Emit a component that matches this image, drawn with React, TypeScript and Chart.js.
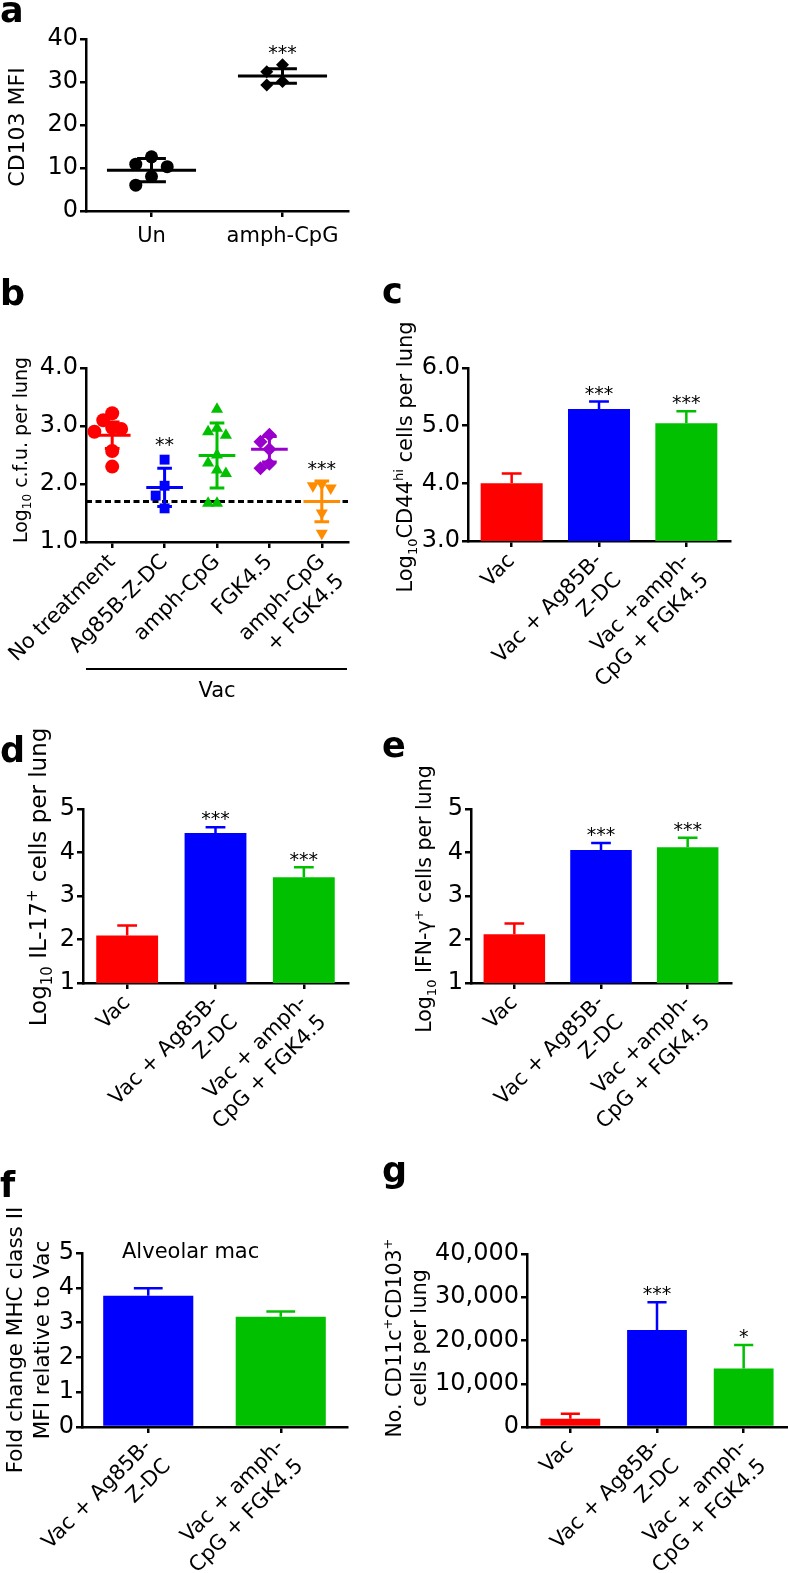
import React, { useEffect, useRef } from "react";
import { Chart, registerables } from "chart.js";

Chart.register(...registerables);

const FONT = '"DejaVu Sans", Verdana, sans-serif';
const BLACK = "#000000";
const RED = "#ff0000";
const BLUE = "#0000ff";
const GREEN = "#00c000";
const PURPLE = "#9a00cc";
const ORANGE = "#ff8c00";

// ---------------- Panel a ----------------
const A_GROUPS = ["Un", "amph-CpG"];
const A_UN = [10.9, 12.6, 10.3, 8.0, 6.0];
const A_AMPH = [32.4, 34.0, 29.3, 30.1];
const A_MEAN = [9.5, 31.4];
const A_SD = [2.7, 1.7];
const A_SIG = ["", "***"];
const A_Y_TICKS = [0, 10, 20, 30, 40];

// ---------------- Panel b ----------------
const B_GROUPS = [["No treatment"], ["Ag85B-Z-DC"], ["amph-CpG"], ["FGK4.5"], ["amph-CpG", "+ FGK4.5"]];
const B_NO_TREATMENT = [3.22, 3.1, 2.97, 2.95, 2.9, 2.57, 2.3];
const B_AG85B = [2.42, 1.97, 1.8, 1.58];
const B_AMPH = [3.29, 2.96, 2.9, 2.84, 2.5, 2.36, 2.24, 2.18, 1.67, 1.67];
const B_FGK = [2.85, 2.73, 2.6, 2.35, 2.27];
const B_COMBO = [2.0, 1.97, 1.93, 1.5, 1.15];
const B_MEAN = [2.84, 1.94, 2.49, 2.6, 1.7];
const B_SD = [0.23, 0.33, 0.56, 0.22, 0.35];
const B_SIG = ["", "**", "", "", "***"];
const B_LIMIT = 1.7;
const B_GROUP_LABEL = "Vac";
const B_Y_TICKS = [1.0, 1.5, 2.0, 2.5, 3.0, 3.5, 4.0];

// ---------------- Panel c ----------------
const C_CATS = [["Vac"], ["Vac + Ag85B-", "Z-DC"], ["Vac +amph-", "CpG + FGK4.5"]];
const C_VALUES = [4.0, 5.29, 5.04];
const C_ERR = [0.17, 0.13, 0.21];
const C_SIG = ["", "***", "***"];
const C_Y_TICKS = [3.0, 3.5, 4.0, 4.5, 5.0, 5.5, 6.0];

// ---------------- Panel d ----------------
const D_CATS = [["Vac"], ["Vac + Ag85B-", "Z-DC"], ["Vac + amph-", "CpG + FGK4.5"]];
const D_VALUES = [2.09, 4.45, 3.43];
const D_ERR = [0.23, 0.13, 0.23];
const D_SIG = ["", "***", "***"];
const D_Y_TICKS = [1, 2, 3, 4, 5];

// ---------------- Panel e ----------------
const E_CATS = [["Vac"], ["Vac + Ag85B-", "Z-DC"], ["Vac +amph-", "CpG + FGK4.5"]];
const E_VALUES = [2.12, 4.06, 4.12];
const E_ERR = [0.25, 0.16, 0.22];
const E_SIG = ["", "***", "***"];
const E_Y_TICKS = [1, 2, 3, 4, 5];

// ---------------- Panel f ----------------
const F_CATS = [["Vac + Ag85B-", "Z-DC"], ["Vac + amph-", "CpG + FGK4.5"]];
const F_VALUES = [3.77, 3.17];
const F_ERR = [0.22, 0.15];
const F_NOTE = "Alveolar mac";
const F_Y_TICKS = [0, 1, 2, 3, 4, 5];

// ---------------- Panel g ----------------
const G_CATS = [["Vac"], ["Vac + Ag85B-", "Z-DC"], ["Vac + amph-", "CpG + FGK4.5"]];
const G_VALUES = [1900, 22400, 13500];
const G_ERR = [1150, 6450, 5450];
const G_SIG = ["", "***", "*"];
const G_Y_TICKS = [0, 10000, 20000, 30000, 40000];

// ---------------- helpers ----------------
type Seg = { t: string; s?: "sub" | "sup" };
type Box = { x: number; y: number; w: number; h: number };
type Area = { l: number; t: number; r: number; b: number };

const STAR_SIZE = 19;
const TICK_SIZE = 24;
const LABEL_SIZE = 21;

function drawRich(ctx: any, lines: Seg[][], cx: number, cy: number, size: number, gap: number) {
  ctx.save();
  ctx.translate(cx, cy);
  ctx.rotate(-Math.PI / 2);
  ctx.fillStyle = BLACK;
  ctx.textBaseline = "alphabetic";
  ctx.textAlign = "left";
  const n = lines.length;
  lines.forEach((segs, li) => {
    const widths = segs.map((sg) => {
      ctx.font = `${sg.s ? Math.round(size * 0.64) : size}px ${FONT}`;
      return ctx.measureText(sg.t).width;
    });
    const total = widths.reduce((a, b) => a + b, 0);
    let x = -total / 2;
    const baseY = (li - (n - 1) / 2) * gap + size * 0.36;
    segs.forEach((sg, i) => {
      ctx.font = `${sg.s ? Math.round(size * 0.64) : size}px ${FONT}`;
      const dy = sg.s === "sub" ? size * 0.24 : sg.s === "sup" ? -size * 0.42 : 0;
      ctx.fillText(sg.t, x, baseY + dy);
      x += widths[i];
    });
  });
  ctx.restore();
}

function drawStars(ctx: any, s: string, x: number, cy: number, size: number) {
  ctx.save();
  ctx.font = `${size}px ${FONT}`;
  ctx.textAlign = "center";
  ctx.textBaseline = "alphabetic";
  ctx.fillStyle = BLACK;
  ctx.fillText(s, x, cy + size * 0.59);
  ctx.restore();
}

function beeswarm(values: number[], thresh: number, step: number): number[] {
  const order = values.map((_, i) => i).sort((a, b) => values[b] - values[a]);
  const placed: { v: number; o: number }[] = [];
  const offs = new Array(values.length).fill(0);
  for (const i of order) {
    for (const c of [0, -1, 1, -2, 2]) {
      if (!placed.some((p) => p.o === c && Math.abs(p.v - values[i]) < thresh)) {
        offs[i] = c * step;
        placed.push({ v: values[i], o: c });
        break;
      }
    }
  }
  return offs;
}

function baseOptions(box: Box, area: Area) {
  return {
    responsive: false,
    maintainAspectRatio: false,
    animation: false,
    events: [],
    layout: { padding: { left: 0, top: area.t - box.y, right: box.x + box.w - area.r, bottom: 0 } },
    plugins: { legend: { display: false }, tooltip: { enabled: false } },
  };
}

function yAxis(box: Box, area: Area, ticksArr: number[], fmt: (v: number) => string, size: number) {
  return {
    type: "linear",
    min: ticksArr[0],
    max: ticksArr[ticksArr.length - 1],
    afterBuildTicks: (s: any) => {
      s.ticks = ticksArr.map((v) => ({ value: v }));
    },
    ticks: { color: BLACK, font: { family: FONT, size }, padding: 2, callback: (v: any) => fmt(Number(v)) },
    grid: { drawOnChartArea: false, drawTicks: true, tickLength: 6, color: BLACK, lineWidth: 2.5 },
    border: { display: true, color: BLACK, width: 2.5 },
    afterFit: (s: any) => {
      s.width = area.l - box.x;
    },
  };
}

function xCat(box: Box, area: Area, size: number) {
  return {
    type: "category",
    offset: true,
    ticks: {
      color: BLACK,
      font: { family: FONT, size, lineHeight: 1.3 },
      minRotation: 45,
      maxRotation: 45,
      autoSkip: false,
      padding: 1,
    },
    grid: { drawOnChartArea: false, drawTicks: true, tickLength: 6, color: BLACK, lineWidth: 2.5, offset: false },
    border: { display: true, color: BLACK, width: 2.5 },
    afterFit: (s: any) => {
      s.height = box.y + box.h - area.b;
    },
  };
}

function decorPlugin(box: Box, letter: string, lx: number, ly: number, title: Seg[][], tcx: number, tcy: number, tsize: number, tgap: number, extra?: (ctx: any, chart: any) => void) {
  return {
    id: "decor",
    afterDraw(chart: any) {
      const ctx = chart.ctx;
      ctx.save();
      ctx.fillStyle = BLACK;
      ctx.font = `bold 35px ${FONT}`;
      ctx.textAlign = "left";
      ctx.textBaseline = "alphabetic";
      ctx.fillText(letter, lx - box.x, ly - box.y);
      ctx.restore();
      drawRich(ctx, title, tcx - box.x, tcy - box.y, tsize, tgap);
      if (extra) extra(ctx, chart);
    },
  };
}

function statsPlugin(means: number[], sds: number[], colors: string[], meanHalf: number, capHalf: number, lw: number) {
  return {
    id: "stats",
    afterDatasetsDraw(chart: any) {
      const { ctx } = chart;
      const x = chart.scales.x;
      const y = chart.scales.y;
      ctx.save();
      ctx.lineWidth = lw;
      means.forEach((m, i) => {
        ctx.strokeStyle = colors[i];
        const ym = y.getPixelForValue(m);
        const yt = y.getPixelForValue(m + sds[i]);
        const yb = y.getPixelForValue(m - sds[i]);
        const xc = x.getPixelForValue(i);
        ctx.beginPath();
        ctx.moveTo(x.getPixelForValue(i - meanHalf), ym);
        ctx.lineTo(x.getPixelForValue(i + meanHalf), ym);
        ctx.moveTo(xc, yt);
        ctx.lineTo(xc, yb);
        ctx.moveTo(x.getPixelForValue(i - capHalf), yt);
        ctx.lineTo(x.getPixelForValue(i + capHalf), yt);
        ctx.moveTo(x.getPixelForValue(i - capHalf), yb);
        ctx.lineTo(x.getPixelForValue(i + capHalf), yb);
        ctx.stroke();
      });
      ctx.restore();
    },
  };
}

function barErrPlugin(values: number[], errs: number[], colors: string[], sig: string[], starGap: number, starSize: number) {
  return {
    id: "barErr",
    afterDatasetsDraw(chart: any) {
      const { ctx } = chart;
      const y = chart.scales.y;
      const meta = chart.getDatasetMeta(0);
      ctx.save();
      meta.data.forEach((el: any, i: number) => {
        const top = y.getPixelForValue(values[i] + errs[i]);
        const half = el.width * 0.16;
        ctx.strokeStyle = colors[i];
        ctx.lineWidth = 2.5;
        ctx.beginPath();
        ctx.moveTo(el.x, el.y);
        ctx.lineTo(el.x, top);
        ctx.moveTo(el.x - half, top);
        ctx.lineTo(el.x + half, top);
        ctx.stroke();
        if (sig && sig[i]) drawStars(ctx, sig[i], el.x, top - starGap, starSize);
      });
      ctx.restore();
    },
  };
}

function scatterChart(box: Box, area: Area, groups: number[][], labels: any[], colors: string[], styles: string[], rotations: number[], radius: number, yTicks: number[], fmt: (v: number) => string, tickSize: number, labelSize: number, rotate: number, jitterStep: number) {
  const yRange = yTicks[yTicks.length - 1] - yTicks[0];
  const thresh = (yRange * (radius * 1.8)) / (area.b - area.t);
  const datasets = groups.map((vals, gi) => {
    const offs = beeswarm(vals, thresh, jitterStep);
    return {
      type: "scatter",
      data: vals.map((v, i) => ({ x: gi + offs[i], y: v })),
      pointStyle: styles[gi],
      pointRotation: rotations[gi],
      pointRadius: radius,
      pointBackgroundColor: colors[gi],
      pointBorderColor: colors[gi],
      pointBorderWidth: 0,
      showLine: false,
    };
  });
  const opts: any = baseOptions(box, area);
  opts.scales = {
    x: {
      type: "linear",
      min: -0.5,
      max: groups.length - 0.5,
      afterBuildTicks: (s: any) => {
        s.ticks = groups.map((_, i) => ({ value: i }));
      },
      ticks: {
        color: BLACK,
        font: { family: FONT, size: labelSize, lineHeight: 1.3 },
        minRotation: rotate,
        maxRotation: rotate,
        autoSkip: false,
        padding: rotate ? 1 : 6,
        callback: (v: any) => labels[Math.round(Number(v))],
      },
      grid: { drawOnChartArea: false, drawTicks: true, tickLength: 6, color: BLACK, lineWidth: 2.5 },
      border: { display: true, color: BLACK, width: 2.5 },
      afterFit: (s: any) => {
        s.height = box.y + box.h - area.b;
      },
    },
    y: yAxis(box, area, yTicks, fmt, tickSize),
  };
  return { type: "scatter", data: { datasets }, options: opts };
}

// ---------------- panel layout ----------------
const BOX_A: Box = { x: 0, y: 0, w: 394, h: 260 };
const AREA_A: Area = { l: 86, t: 39, r: 348, b: 211 };
const BOX_B: Box = { x: 0, y: 260, w: 394, h: 440 };
const AREA_B: Area = { l: 86, t: 368, r: 348, b: 542 };
const BOX_C: Box = { x: 380, y: 260, w: 408, h: 440 };
const AREA_C: Area = { l: 468, t: 368, r: 730, b: 541 };
const BOX_D: Box = { x: 0, y: 700, w: 394, h: 440 };
const AREA_D: Area = { l: 83, t: 809, r: 348, b: 983 };
const BOX_E: Box = { x: 380, y: 700, w: 408, h: 440 };
const AREA_E: Area = { l: 471, t: 809, r: 731, b: 983 };
const BOX_F: Box = { x: 0, y: 1120, w: 394, h: 453 };
const AREA_F: Area = { l: 82, t: 1253, r: 347, b: 1427 };
const BOX_G: Box = { x: 380, y: 1120, w: 408, h: 453 };
const AREA_G: Area = { l: 527, t: 1254, r: 787, b: 1427 };

function makeA() {
  const groups = [A_UN, A_AMPH];
  const cfg: any = scatterChart(BOX_A, AREA_A, groups, A_GROUPS, [BLACK, BLACK], ["circle", "rectRot"], [0, 0], 6.5, A_Y_TICKS, (v) => String(v), TICK_SIZE, LABEL_SIZE, 0, 0.12);
  cfg.plugins = [
    statsPlugin(A_MEAN, A_SD, [BLACK, BLACK], 0.34, 0.11, 3),
    {
      id: "sigA",
      afterDatasetsDraw(chart: any) {
        const x = chart.scales.x;
        const y = chart.scales.y;
        groups.forEach((g, i) => {
          if (A_SIG[i]) drawStars(chart.ctx, A_SIG[i], x.getPixelForValue(i), y.getPixelForValue(Math.max(...g)) - 17, STAR_SIZE);
        });
      },
    },
    decorPlugin(BOX_A, "a", 0, 22, [[{ t: "CD103 MFI" }]], 16, 127, 22, 0),
  ];
  return cfg;
}

function makeB() {
  const groups = [B_NO_TREATMENT, B_AG85B, B_AMPH, B_FGK, B_COMBO];
  const colors = [RED, BLUE, GREEN, PURPLE, ORANGE];
  const cfg: any = scatterChart(BOX_B, AREA_B, groups, B_GROUPS, colors, ["circle", "rect", "triangle", "rectRot", "triangle"], [0, 0, 0, 0, 180], 7, B_Y_TICKS, (v) => v.toFixed(1), TICK_SIZE, LABEL_SIZE, 45, 0.17);
  cfg.plugins = [
    {
      id: "limitB",
      beforeDatasetsDraw(chart: any) {
        const { ctx, chartArea } = chart;
        const yp = chart.scales.y.getPixelForValue(B_LIMIT);
        ctx.save();
        ctx.strokeStyle = BLACK;
        ctx.lineWidth = 3;
        ctx.setLineDash([6, 3.5]);
        ctx.beginPath();
        ctx.moveTo(chartArea.left, yp);
        ctx.lineTo(chartArea.right, yp);
        ctx.stroke();
        ctx.restore();
      },
    },
    statsPlugin(B_MEAN, B_SD, colors, 0.35, 0.14, 3),
    {
      id: "sigB",
      afterDatasetsDraw(chart: any) {
        const x = chart.scales.x;
        const y = chart.scales.y;
        groups.forEach((g, i) => {
          if (B_SIG[i]) drawStars(chart.ctx, B_SIG[i], x.getPixelForValue(i), y.getPixelForValue(Math.max(...g)) - 20, STAR_SIZE);
        });
      },
    },
    decorPlugin(BOX_B, "b", 0, 305, [[{ t: "Log" }, { t: "10", s: "sub" }, { t: " c.f.u. per lung" }]], 20, 450, 19, 0, (ctx: any, chart: any) => {
      const { chartArea } = chart;
      const yb = 669 - BOX_B.y;
      ctx.save();
      ctx.strokeStyle = BLACK;
      ctx.lineWidth = 2;
      ctx.beginPath();
      ctx.moveTo(chartArea.left, yb);
      ctx.lineTo(chartArea.right - 1, yb);
      ctx.stroke();
      ctx.fillStyle = BLACK;
      ctx.font = `${LABEL_SIZE}px ${FONT}`;
      ctx.textAlign = "center";
      ctx.textBaseline = "alphabetic";
      ctx.fillText(B_GROUP_LABEL, (chartArea.left + chartArea.right) / 2, 697 - BOX_B.y);
      ctx.restore();
    }),
  ];
  return cfg;
}

function barChart(box: Box, area: Area, cats: any[], values: number[], errs: number[], colors: string[], sig: string[], yTicks: number[], fmt: (v: number) => string, barPct: number, tickSize: number, labelSize: number) {
  const opts: any = baseOptions(box, area);
  opts.scales = { x: xCat(box, area, labelSize), y: yAxis(box, area, yTicks, fmt, tickSize) };
  return {
    type: "bar",
    data: {
      labels: cats,
      datasets: [
        {
          data: values,
          backgroundColor: colors,
          borderWidth: 0,
          categoryPercentage: 1,
          barPercentage: barPct,
        },
      ],
    },
    options: opts,
    plugins: [barErrPlugin(values, errs, colors, sig, 13, STAR_SIZE)] as any[],
  };
}

function makeC() {
  const cfg: any = barChart(BOX_C, AREA_C, C_CATS, C_VALUES, C_ERR, [RED, BLUE, GREEN], C_SIG, C_Y_TICKS, (v) => v.toFixed(1), 0.71, TICK_SIZE, LABEL_SIZE);
  cfg.plugins.push(decorPlugin(BOX_C, "c", 382, 303, [[{ t: "Log" }, { t: "10", s: "sub" }, { t: "CD44" }, { t: "hi", s: "sup" }, { t: " cells per lung" }]], 404, 457, 21, 0));
  return cfg;
}

function makeD() {
  const cfg: any = barChart(BOX_D, AREA_D, D_CATS, D_VALUES, D_ERR, [RED, BLUE, GREEN], D_SIG, D_Y_TICKS, (v) => String(v), 0.7, TICK_SIZE, LABEL_SIZE);
  cfg.plugins.push(decorPlugin(BOX_D, "d", 0, 762, [[{ t: "Log" }, { t: "10", s: "sub" }, { t: " IL-17" }, { t: "+", s: "sup" }, { t: " cells per lung" }]], 38, 877, 23, 0));
  return cfg;
}

function makeE() {
  const cfg: any = barChart(BOX_E, AREA_E, E_CATS, E_VALUES, E_ERR, [RED, BLUE, GREEN], E_SIG, E_Y_TICKS, (v) => String(v), 0.71, TICK_SIZE, LABEL_SIZE);
  cfg.plugins.push(decorPlugin(BOX_E, "e", 382, 757, [[{ t: "Log" }, { t: "10", s: "sub" }, { t: " IFN-γ" }, { t: "+", s: "sup" }, { t: " cells per lung" }]], 424, 899, 20.5, 0));
  return cfg;
}

function makeF() {
  const cfg: any = barChart(BOX_F, AREA_F, F_CATS, F_VALUES, F_ERR, [BLUE, GREEN], ["", ""], F_Y_TICKS, (v) => String(v), 0.68, TICK_SIZE, LABEL_SIZE);
  cfg.plugins.push(
    decorPlugin(BOX_F, "f", 0, 1197, [[{ t: "Fold change MHC class II" }], [{ t: "MFI relative to Vac" }]], 28, 1340, 21.5, 27, (ctx: any) => {
      ctx.save();
      ctx.fillStyle = BLACK;
      ctx.font = `21px ${FONT}`;
      ctx.textAlign = "left";
      ctx.textBaseline = "alphabetic";
      ctx.fillText(F_NOTE, 122 - BOX_F.x, 1258 - BOX_F.y);
      ctx.restore();
    })
  );
  return cfg;
}

function makeG() {
  const cfg: any = barChart(BOX_G, AREA_G, G_CATS, G_VALUES, G_ERR, [RED, BLUE, GREEN], G_SIG, G_Y_TICKS, (v) => v.toLocaleString("en-US"), 0.69, TICK_SIZE, LABEL_SIZE);
  cfg.plugins.push(decorPlugin(BOX_G, "g", 382, 1182, [[{ t: "No. CD11c" }, { t: "+", s: "sup" }, { t: "CD103" }, { t: "+", s: "sup" }], [{ t: "cells per lung" }]], 406, 1338, 20.5, 25));
  return cfg;
}

function Panel({ box, make }: { box: Box; make: () => any }) {
  const ref = useRef<HTMLCanvasElement>(null);
  useEffect(() => {
    const chart = new Chart(ref.current as HTMLCanvasElement, make());
    return () => chart.destroy();
  }, []);
  return (
    <canvas
      ref={ref}
      width={box.w}
      height={box.h}
      style={{ position: "absolute", left: box.x, top: box.y, width: box.w, height: box.h }}
    />
  );
}

export default function App() {
  return (
    <div style={{ position: "absolute", left: 0, top: 0, width: 788, height: 1573, background: "#ffffff", overflow: "hidden" }}>
      <Panel box={BOX_A} make={makeA} />
      <Panel box={BOX_B} make={makeB} />
      <Panel box={BOX_C} make={makeC} />
      <Panel box={BOX_D} make={makeD} />
      <Panel box={BOX_E} make={makeE} />
      <Panel box={BOX_F} make={makeF} />
      <Panel box={BOX_G} make={makeG} />
    </div>
  );
}
